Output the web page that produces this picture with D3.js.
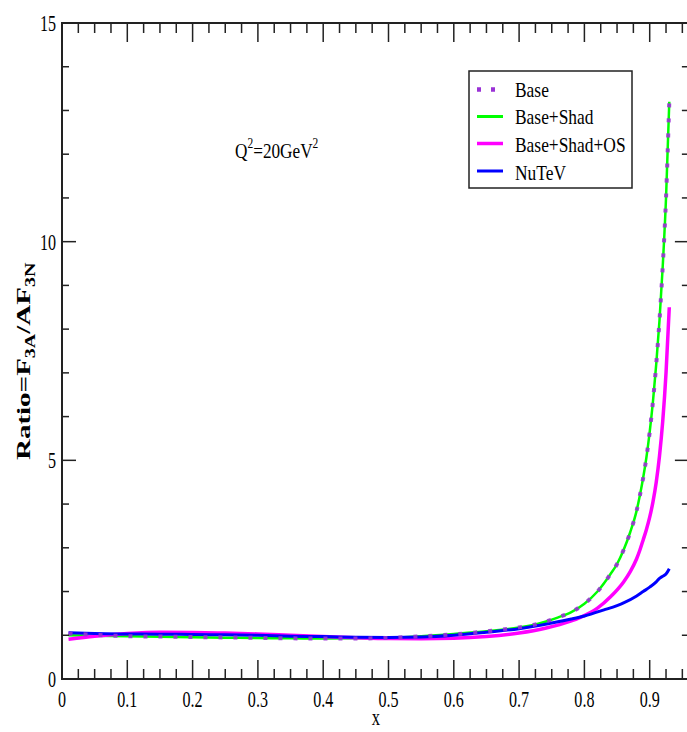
<!DOCTYPE html>
<html><head><meta charset="utf-8">
<script src="https://cdn.jsdelivr.net/npm/d3@7"></script>
<style>html,body{margin:0;padding:0;background:#fff;}svg{display:block;}</style>
</head><body>
<svg id="c" width="687" height="732"></svg>
<script>
// ---- data ----
const xBase = [0.01,0.05,0.1,0.15,0.2,0.25,0.3,0.35,0.4,0.45,0.5,0.55,0.6,0.65,0.7,0.72,0.74,0.76,0.78,0.8,0.82,0.84,0.85,0.86,0.87,0.88,0.885,0.89,0.895,0.9,0.905,0.91,0.915,0.92,0.925,0.93];
const base = [1.04,1.01,0.98,0.97,0.96,0.95,0.94,0.93,0.925,0.925,0.94,0.975,1.02,1.09,1.18,1.23,1.31,1.41,1.53,1.72,2.0,2.4,2.63,2.95,3.35,3.85,4.2,4.6,5.07,5.65,6.35,7.2,8.2,9.45,11.0,13.2];
const baseShad = [1.0,0.99,0.975,0.965,0.955,0.945,0.935,0.93,0.925,0.93,0.945,0.98,1.03,1.09,1.18,1.23,1.31,1.41,1.53,1.72,2.0,2.4,2.63,2.95,3.35,3.85,4.2,4.6,5.07,5.65,6.35,7.2,8.2,9.45,11.0,13.2];
const xOS = [0.01,0.05,0.1,0.15,0.2,0.25,0.3,0.35,0.4,0.45,0.5,0.55,0.6,0.65,0.7,0.74,0.78,0.8,0.82,0.84,0.86,0.87,0.88,0.885,0.89,0.895,0.9,0.905,0.91,0.915,0.92,0.925,0.93];
const baseShadOS = [0.91,0.98,1.04,1.07,1.065,1.05,1.03,1.0,0.97,0.945,0.925,0.92,0.93,0.97,1.05,1.16,1.33,1.45,1.62,1.88,2.22,2.45,2.75,2.95,3.18,3.42,3.7,4.05,4.5,5.1,5.9,7.0,8.5];
const xNu = [0.01,0.05,0.1,0.15,0.2,0.25,0.3,0.35,0.4,0.45,0.5,0.55,0.6,0.65,0.7,0.75,0.78,0.8,0.83,0.85,0.86,0.88,0.89,0.9,0.91,0.915,0.92,0.925,0.93];
const nuTeV = [1.06,1.04,1.03,1.025,1.02,1.01,1.0,0.98,0.97,0.955,0.95,0.96,1.0,1.07,1.15,1.28,1.37,1.44,1.58,1.68,1.74,1.9,2.0,2.1,2.22,2.3,2.35,2.4,2.52];
const xTicksMajor = [0,0.1,0.2,0.3,0.4,0.5,0.6,0.7,0.8,0.9];
const xTickLabels = ["0","0.1","0.2","0.3","0.4","0.5","0.6","0.7","0.8","0.9"];
const yTicksMajor = [0,5,10,15];
const yTickLabels = ["0","5","10","15"];
const seriesNames = ["Base","Base+Shad","Base+Shad+OS","NuTeV"];

// ---- layout ----
const svg = d3.select("#c");
const L = 62, T = 23, B = 679;
const x = d3.scaleLinear().domain([0, 0.96]).range([L, L + 653 * 0.96]);
const y = d3.scaleLinear().domain([0, 15]).range([B, T]);
const R = x(0.96);
const FONT = "'Liberation Serif','Times New Roman',serif";
const axisCol = "#222";

function txt(g, s, px, py, size, sx, anchor, weight) {
  return g.append("text")
    .attr("transform", `translate(${px},${py}) scale(${sx},1)`)
    .attr("text-anchor", anchor || "start")
    .attr("font-family", FONT)
    .attr("font-size", size)
    .attr("font-weight", weight || "normal")
    .attr("fill", "#000")
    .text(s);
}

// curves
const mk = (xs, ys) => xs.map((v, i) => [v, ys[i]]);
const line = d3.line().x(d => x(d[0])).y(d => y(d[1])).curve(d3.curveMonotoneX);
const plot = svg.append("g");
plot.append("path").attr("d", line(mk(xBase, baseShad))).attr("fill", "none")
  .attr("stroke", "#00ff00").attr("stroke-width", 2.5);
plot.append("path").attr("d", line(mk(xOS, baseShadOS))).attr("fill", "none")
  .attr("stroke", "#ff00ff").attr("stroke-width", 3.5);
plot.append("path").attr("d", line(mk(xNu, nuTeV))).attr("fill", "none")
  .attr("stroke", "#0000ff").attr("stroke-width", 3);
plot.append("path").attr("d", line(mk(xBase, base))).attr("fill", "none")
  .attr("stroke", "#9a32d6").attr("stroke-width", 4).attr("stroke-dasharray", "4,11")
  .attr("opacity", 0.9);

// frame
const ax = svg.append("g");
ax.append("rect").attr("x", L).attr("y", T).attr("width", R - L).attr("height", B - T)
  .attr("fill", "none").attr("stroke", axisCol).attr("stroke-width", 2);

// x ticks (bottom & top, inward)
const xMinor = d3.range(0, 0.9601, 0.025).map(v => +v.toFixed(3));
xMinor.forEach(v => {
  const maj = Math.abs(v * 10 - Math.round(v * 10)) < 1e-6;
  const len = maj ? 19 : 10;
  ax.append("line").attr("x1", x(v)).attr("x2", x(v)).attr("y1", B).attr("y2", B - len)
    .attr("stroke", axisCol).attr("stroke-width", 1.5);
  ax.append("line").attr("x1", x(v)).attr("x2", x(v)).attr("y1", T).attr("y2", T + len)
    .attr("stroke", axisCol).attr("stroke-width", 1.5);
});
// y ticks (left & right, inward)
d3.range(0, 16, 1).forEach(v => {
  const maj = v % 5 === 0;
  const len = maj ? 14 : 7;
  ax.append("line").attr("x1", L).attr("x2", L + len).attr("y1", y(v)).attr("y2", y(v))
    .attr("stroke", axisCol).attr("stroke-width", 1.5);
  ax.append("line").attr("x1", R).attr("x2", R - len).attr("y1", y(v)).attr("y2", y(v))
    .attr("stroke", axisCol).attr("stroke-width", 1.5);
});

// tick labels
xTicksMajor.forEach((v, i) => txt(ax, xTickLabels[i], x(v), 707, 23, 0.7, "middle"));
yTicksMajor.forEach((v, i) => txt(ax, yTickLabels[i], 56, y(v) + 8, 23, 0.7, "end"));

// axis titles
txt(ax, "x", 376, 725, 23, 0.72, "middle");
const yt = svg.append("text")
  .attr("transform", "translate(30,460) scale(0.68,1) rotate(-90)")
  .attr("font-family", FONT).attr("font-size", 29).attr("font-weight", "bold").attr("fill", "#000");
yt.append("tspan").text("Ratio=F");
yt.append("tspan").attr("font-size", 20).attr("dy", 7).text("3A");
yt.append("tspan").attr("dy", -7).text("/AF");
yt.append("tspan").attr("font-size", 20).attr("dy", 7).text("3N");

// annotation Q^2
const q = svg.append("text").attr("transform", "translate(235,158) scale(0.82,1)")
  .attr("font-family", FONT).attr("font-size", 21).attr("fill", "#000");
q.append("tspan").text("Q");
q.append("tspan").attr("font-size", 14).attr("dy", -10).text("2");
q.append("tspan").attr("dy", 10).text("=20GeV");
q.append("tspan").attr("font-size", 14).attr("dy", -10).text("2");

// legend
const lg = svg.append("g");
lg.append("rect").attr("x", 469).attr("y", 71).attr("width", 163).attr("height", 117)
  .attr("fill", "#fff").attr("stroke", axisCol).attr("stroke-width", 1.5);
const legendRows = [
  {name: seriesNames[0], col: "#9a32d6", w: 4.3, dash: "4,10", ly: 89.5, ty: 97},
  {name: seriesNames[1], col: "#00ff00", w: 3, dash: null, ly: 116.5, ty: 124},
  {name: seriesNames[2], col: "#ff00ff", w: 3.5, dash: null, ly: 143.5, ty: 152},
  {name: seriesNames[3], col: "#0000ff", w: 3, dash: null, ly: 171, ty: 180}
];
legendRows.forEach(r => {
  const l = lg.append("line").attr("x1", 477).attr("x2", 503).attr("y1", r.ly).attr("y2", r.ly)
    .attr("stroke", r.col).attr("stroke-width", r.w);
  if (r.dash) l.attr("stroke-dasharray", r.dash);
  txt(lg, r.name, 515, r.ty, 20.5, 0.85, "start");
});
</script>
</body></html>
